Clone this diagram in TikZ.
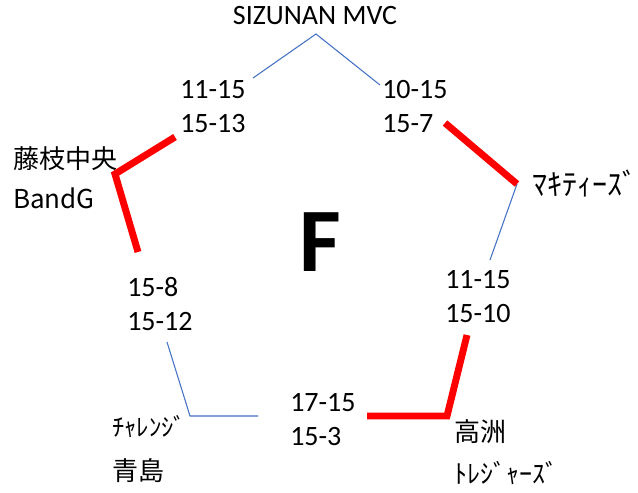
\documentclass[tikz,border=0pt]{standalone}
\usepackage{fontspec}
\setmainfont{Carlito}
\newfontfamily\jpfont{Noto Sans CJK JP}
\usetikzlibrary{positioning,calc}
\definecolor{lineblue}{HTML}{4472C4}
\tikzset{
    scorebox/.style={
        inner sep=0pt,            % sin margen: el texto marca la posición
        anchor=west,              % se coloca por su borde izquierdo
        align=left,               % dos resultados, uno bajo otro
        font=\fontsize{21}{25.5}\selectfont
    },
    teambox/.style={
        inner sep=0pt,
        anchor=west,
        align=left,
        font=\jpfont\fontsize{19.5}{#1}\selectfont % interlineado según el equipo
    },
    lostline/.style={
        draw=lineblue,            % tramo fino en azul
        line width=0.8pt
    },
    wonline/.style={
        draw=red,                 % tramo grueso en rojo
        line width=5.2pt,
        line join=miter
    }
}
\begin{document}
\begin{tikzpicture}[x=0.75pt,y=-0.75pt]
    \useasboundingbox (0,0) rectangle (638,492);

    % vértices del pentágono
    \coordinate (vtop) at (316,34);
    \coordinate (vur)  at (517,184);
    \coordinate (vlr)  at (447,416);
    \coordinate (vll)  at (190,416);
    \coordinate (vul)  at (115,174);

    % extremos de los tramos junto a los resultados
    \coordinate (ga) at (253,78);
    \coordinate (gb) at (175,137);
    \coordinate (gc) at (380,85);
    \coordinate (gd) at (445,123);
    \coordinate (ge) at (490,260);
    \coordinate (gf) at (467,335);
    \coordinate (gg) at (367,416);
    \coordinate (gh) at (258,416);
    \coordinate (gi) at (167,342);
    \coordinate (gj) at (138,252);

    % equipos
    \node[font=\fontsize{21}{25}\selectfont] (sizunan) at (315,16) {SIZUNAN MVC};
    \node[teambox=30pt] (fujieda) at (13,178) {藤枝中央\\BandG};
    \node[teambox=25pt, font=\jpfont\fontsize{22.5}{25}\selectfont] (makities) at (532,183) {ﾏｷﾃｨｰｽﾞ};
    \node[teambox=31.5pt] (takasu) at (454,452) {高洲\\ﾄﾚｼﾞｬｰｽﾞ};
    \node[teambox=33pt] (aoshima) at (112,449) {{\fontsize{18.5}{33}\selectfont ﾁｬﾚﾝｼﾞ}\\青島};

    % resultados
    \node[scorebox] (sa) at (180,107) {11-15\\15-13};
    \node[scorebox] (sb) at (382,107) {10-15\\15-7};
    \node[scorebox] (sc) at (445,297) {11-15\\15-10};
    \node[scorebox] (sd) at (290,419.5) {17-15\\15-3};
    \node[scorebox] (se) at (127,304.5) {15-8\\15-12};

    \node[inner sep=0pt, font=\bfseries\fontsize{68}{70}\selectfont] (grupo) at (320,242) {F};

    \draw[lostline] (ga) -- (vtop) -- (gc);
    \draw[lostline] (vur) -- (ge);
    \draw[lostline] (gi) -- (vll) -- (gh);
    \draw[wonline] (gb) -- (vul) -- (gj);
    \draw[wonline] (gd) -- (vur);
    \draw[wonline] (gg) -- (vlr) -- (gf);
\end{tikzpicture}
\end{document}
